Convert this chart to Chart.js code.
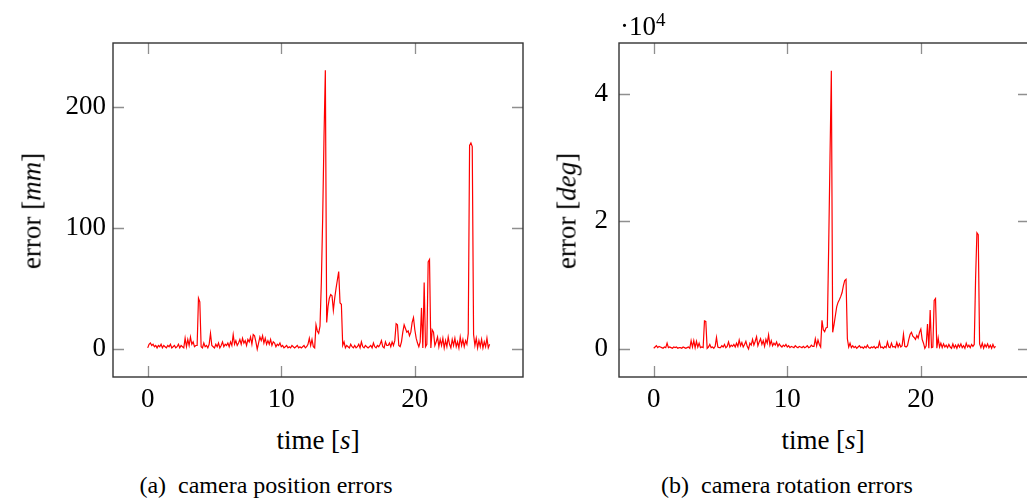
<!DOCTYPE html>
<html>
<head>
<meta charset="utf-8">
<script src="https://cdn.jsdelivr.net/npm/chart.js@4/dist/chart.umd.min.js"></script>
<style>
  html, body { margin: 0; padding: 0; background: #fff; }
  body { width: 1027px; height: 501px; position: relative; overflow: hidden; }
  canvas { position: absolute; top: 0; }
  #posChart { left: 0; }
  #rotChart { left: 540px; }
  .lbl {
    position: absolute;
    font-family: "Liberation Serif", "DejaVu Serif", serif;
    font-size: 27px;
    line-height: 1;
    white-space: nowrap;
    color: #000;
    transform: translate(-50%, -50%);
  }
  .ytitle { transform: translate(-50%, -50%) rotate(-90deg); }
  .caption { font-size: 24px; }
  .scale { transform: none; }
  .scale sup { font-size: 19px; position: relative; top: -3px; vertical-align: top; }
</style>
</head>
<body>
<canvas id="posChart" width="540" height="420"></canvas>
<canvas id="rotChart" width="500" height="420"></canvas>

<div class="lbl ytitle" style="left:32px; top:211px">error [<i>mm</i>]</div>
<div class="lbl" style="left:318px; top:440px">time [<i>s</i>]</div>
<div class="lbl caption" style="left:266px; top:485px">(a)&nbsp; camera position errors</div>

<div class="lbl scale" style="left:620px; top:13px">·10<sup>4</sup></div>
<div class="lbl ytitle" style="left:567px; top:211px">error [<i>deg</i>]</div>
<div class="lbl" style="left:823px; top:440px">time [<i>s</i>]</div>
<div class="lbl caption" style="left:787px; top:485px">(b)&nbsp; camera rotation errors</div>

<script>
// ------------------------------------------------------------
// data (read off the figure, sampled every 0.1 s)
// ------------------------------------------------------------
const time = [
  0.0, 0.1, 0.2, 0.3, 0.4, 0.5, 0.6, 0.7, 0.8, 0.9,
  1.0, 1.1, 1.2, 1.3, 1.4, 1.5, 1.6, 1.7, 1.8, 1.9,
  2.0, 2.1, 2.2, 2.3, 2.4, 2.5, 2.6, 2.7, 2.8, 2.9,
  3.0, 3.1, 3.2, 3.3, 3.4, 3.5, 3.6, 3.7, 3.8, 3.9,
  4.0, 4.1, 4.2, 4.3, 4.4, 4.5, 4.6, 4.7, 4.8, 4.9,
  5.0, 5.1, 5.2, 5.3, 5.4, 5.5, 5.6, 5.7, 5.8, 5.9,
  6.0, 6.1, 6.2, 6.3, 6.4, 6.5, 6.6, 6.7, 6.8, 6.9,
  7.0, 7.1, 7.2, 7.3, 7.4, 7.5, 7.6, 7.7, 7.8, 7.9,
  8.0, 8.1, 8.2, 8.3, 8.4, 8.5, 8.6, 8.7, 8.8, 8.9,
  9.0, 9.1, 9.2, 9.3, 9.4, 9.5, 9.6, 9.7, 9.8, 9.9,
  10.0, 10.1, 10.2, 10.3, 10.4, 10.5, 10.6, 10.7, 10.8, 10.9,
  11.0, 11.1, 11.2, 11.3, 11.4, 11.5, 11.6, 11.7, 11.8, 11.9,
  12.0, 12.1, 12.2, 12.3, 12.4, 12.5, 12.6, 12.7, 12.8, 12.9,
  13.0, 13.1, 13.2, 13.3, 13.4, 13.5, 13.6, 13.7, 13.8, 13.9,
  14.0, 14.1, 14.2, 14.3, 14.4, 14.5, 14.6, 14.7, 14.8, 14.9,
  15.0, 15.1, 15.2, 15.3, 15.4, 15.5, 15.6, 15.7, 15.8, 15.9,
  16.0, 16.1, 16.2, 16.3, 16.4, 16.5, 16.6, 16.7, 16.8, 16.9,
  17.0, 17.1, 17.2, 17.3, 17.4, 17.5, 17.6, 17.7, 17.8, 17.9,
  18.0, 18.1, 18.2, 18.3, 18.4, 18.5, 18.6, 18.7, 18.8, 18.9,
  19.0, 19.1, 19.2, 19.3, 19.4, 19.5, 19.6, 19.7, 19.8, 19.9,
  20.0, 20.1, 20.2, 20.3, 20.4, 20.5, 20.6, 20.7, 20.8, 20.9,
  21.0, 21.1, 21.2, 21.3, 21.4, 21.5, 21.6, 21.7, 21.8, 21.9,
  22.0, 22.1, 22.2, 22.3, 22.4, 22.5, 22.6, 22.7, 22.8, 22.9,
  23.0, 23.1, 23.2, 23.3, 23.4, 23.5, 23.6, 23.7, 23.8, 23.9,
  24.0, 24.1, 24.2, 24.3, 24.4, 24.5, 24.6, 24.7, 24.8, 24.9,
  25.0, 25.1, 25.2, 25.3, 25.4, 25.5, 25.6
];

// camera position error [mm]
const posError = [
  1, 4, 5, 3, 4, 2, 3, 1, 3, 2,
  4, 1, 3, 2, 1, 3, 2, 4, 1, 2,
  3, 1, 2, 4, 1, 3, 2, 1, 9, 2,
  8, 3, 10, 4, 6, 2, 3, 3, 42, 39,
  2, 1, 5, 2, 3, 1, 4, 13, 3, 2,
  1, 4, 2, 5, 1, 3, 6, 2, 4, 3,
  5, 2, 6, 3, 12, 4, 7, 3, 5, 8,
  4, 9, 5, 7, 3, 8, 6, 10, 4, 12,
  11, 6, 0, 5, 10, 7, 11, 5, 9, 4,
  7, 4, 8, 3, 6, 5, 2, 4, 3, 5,
  2, 3, 1, 2, 3, 1, 2, 1, 3, 2,
  1, 2, 3, 1, 2, 1, 2, 3, 1, 2,
  4, 9, 3, 8, 2, 1, 20, 15, 13, 19,
  55, 108, 175, 230, 22, 35, 42, 45, 44, 32,
  42, 50, 57, 64, 38, 37, 3, 6, 1, 3,
  2, 1, 4, 2, 1, 3, 1, 2, 4, 1,
  6, 2, 1, 3, 2, 1, 2, 3, 1, 5,
  2, 1, 3, 2, 4, 7, 2, 1, 6, 3,
  3, 5, 2, 6, 3, 7, 21, 20, 3, 2,
  6, 14, 20, 17, 14, 15, 11, 14, 22, 26,
  16, 9, 5, 2, 6, 34, 1, 55, 2, 4,
  72, 74, 1, 16, 14, 3, 6, 10, 2, 8,
  3, 9, 1, 7, 2, 10, 4, 1, 8, 3,
  9, 2, 6, 1, 10, 3, 8, 2, 7, 4,
  13, 168, 170, 167, 12, 3, 9, 1, 7, 2,
  8, 1, 6, 2, 9, 1, 4
];

// camera rotation error [deg]
const rotError = [
  100, 300, 500, 200, 400, 300, 200, 100, 300, 200,
  900, 200, 300, 200, 100, 300, 200, 300, 100, 200,
  200, 100, 300, 200, 100, 200, 300, 100, 1300, 300,
  1300, 200, 1200, 300, 900, 200, 300, 200, 4400, 4300,
  100, 300, 700, 200, 300, 100, 400, 1800, 300, 200,
  200, 500, 300, 700, 200, 400, 1100, 300, 600, 400,
  700, 300, 900, 400, 1400, 500, 1000, 300, 700, 1200,
  400, 0, 900, 600, 1500, 600, 1200, 1900, 500, 1100,
  1600, 700, 1300, 400, 1500, 900, 2200, 600, 1300, 500,
  900, 600, 1100, 400, 800, 500, 300, 600, 400, 700,
  300, 500, 200, 400, 300, 200, 500, 300, 200, 400,
  300, 200, 400, 200, 300, 500, 200, 300, 600, 400,
  400, 1600, 500, 1400, 700, 300, 4500, 3000, 2700, 3300,
  3400, 16000, 30000, 43600, 2600, 3800, 5200, 6600, 7300, 7700,
  8200, 8800, 9900, 10700, 10900, 1600, 300, 900, 200, 500,
  200, 400, 100, 300, 500, 200, 300, 100, 400, 200,
  600, 200, 100, 300, 200, 400, 100, 300, 200, 1100,
  200, 300, 100, 400, 200, 1100, 300, 200, 900, 300,
  400, 200, 1000, 300, 800, 300, 500, 2300, 400, 300,
  500, 1500, 2300, 2600, 2000, 1800, 1500, 2100, 1700, 2600,
  3100, 1500, 900, 100, 500, 3900, 100, 6100, 200, 300,
  7600, 7900, 100, 1700, 300, 900, 200, 800, 300, 600,
  200, 700, 300, 100, 800, 200, 600, 100, 700, 300,
  800, 200, 500, 100, 900, 300, 600, 200, 700, 400,
  700, 11000, 18200, 17900, 800, 200, 900, 100, 700, 300,
  800, 200, 600, 100, 700, 200, 400
];

const xTicks = [0, 10, 20];
const posTicks = [0, 100, 200];
const rotTicks = [0, 20000, 40000];

// ------------------------------------------------------------
// look
// ------------------------------------------------------------
const LINE_RED = '#ff0000';
const FRAME = '#333333';
const TICK_GRAY = '#8f8f8f';
const TICK_LEN = 11;
const FONT = '"Liberation Serif", "DejaVu Serif", serif';

Chart.defaults.font.family = FONT;
Chart.defaults.font.size = 27;
Chart.defaults.color = '#000';

// inner ticks on all four sides + the box, like pgfplots
const frameTicks = {
  id: 'frameTicks',
  beforeDatasetsDraw(chart) {
    const { ctx, chartArea: a, scales: { x, y } } = chart;
    ctx.save();
    ctx.strokeStyle = TICK_GRAY;
    ctx.lineWidth = 1.3;
    ctx.beginPath();
    x.ticks.forEach(t => {
      const px = Math.round(x.getPixelForValue(t.value)) + 0.5;
      ctx.moveTo(px, a.bottom); ctx.lineTo(px, a.bottom - TICK_LEN);
      ctx.moveTo(px, a.top); ctx.lineTo(px, a.top + TICK_LEN);
    });
    y.ticks.forEach(t => {
      const py = Math.round(y.getPixelForValue(t.value)) + 0.5;
      ctx.moveTo(a.left, py); ctx.lineTo(a.left + TICK_LEN, py);
      ctx.moveTo(a.right, py); ctx.lineTo(a.right - TICK_LEN, py);
    });
    ctx.stroke();
    ctx.restore();
  },
  afterDraw(chart) {
    const { ctx, chartArea: a } = chart;
    ctx.save();
    ctx.strokeStyle = FRAME;
    ctx.lineWidth = 1.4;
    ctx.strokeRect(a.left, a.top, a.width, a.height);
    ctx.restore();
  }
};

function makeChart(id, values, cfg) {
  const ctx = document.getElementById(id).getContext('2d');
  return new Chart(ctx, {
    type: 'line',
    data: {
      datasets: [{
        data: time.map((t, i) => ({ x: t, y: values[i] })),
        borderColor: LINE_RED,
        borderWidth: 1.2,
        pointRadius: 0,
        tension: 0,
        fill: false
      }]
    },
    options: {
      responsive: false,
      animation: false,
      layout: { padding: { top: 43, right: cfg.padRight, left: 0, bottom: 0 } },
      plugins: { legend: { display: false }, tooltip: { enabled: false } },
      scales: {
        x: {
          type: 'linear',
          min: -2.6,
          max: 28.1,
          afterBuildTicks: s => { s.ticks = xTicks.map(v => ({ value: v })); },
          afterFit: s => { s.height = 43; },
          grid: { display: false, drawTicks: false },
          border: { display: false },
          ticks: { padding: 7, maxRotation: 0, autoSkip: false, callback: v => String(v) }
        },
        y: {
          type: 'linear',
          min: cfg.yMin,
          max: cfg.yMax,
          afterBuildTicks: s => { s.ticks = cfg.yTicks.map(v => ({ value: v })); },
          afterFit: s => { s.width = cfg.yWidth; },
          grid: { display: false, drawTicks: false },
          border: { display: false },
          ticks: { padding: cfg.labelPad, autoSkip: false, callback: cfg.fmt }
        }
      }
    },
    plugins: [frameTicks]
  });
}

makeChart('posChart', posError, {
  yMin: -23, yMax: 252.5, yTicks: posTicks,
  yWidth: 113, padRight: 17, labelPad: 7,
  fmt: v => String(v)
});

makeChart('rotChart', rotError, {
  yMin: -4400, yMax: 47960, yTicks: rotTicks,
  yWidth: 79, padRight: 11, labelPad: 11,
  fmt: v => String(v / 10000)
});
</script>
</body>
</html>
